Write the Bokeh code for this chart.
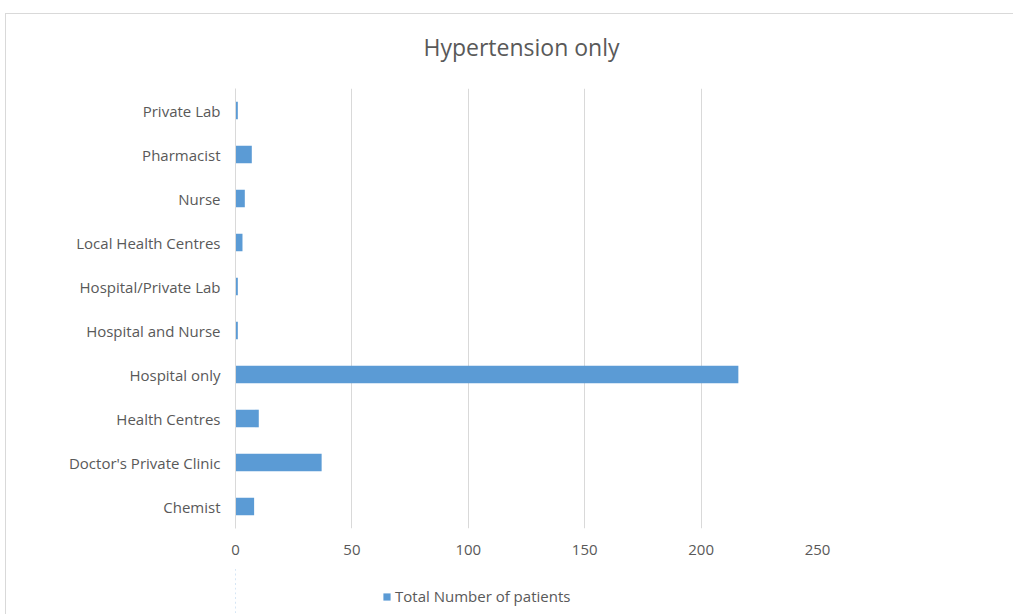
from bokeh.plotting import figure
from bokeh.layouts import column
from bokeh.models import (FactorRange, Range1d, Legend, LegendItem, FixedTicker,
                          ColumnDataSource, Title)
from bokeh.embed import file_html
from bokeh.resources import INLINE

categories = ["Chemist", "Doctor's Private Clinic", "Health Centres", "Hospital only",
              "Hospital and Nurse", "Hospital/Private Lab", "Local Health Centres",
              "Nurse", "Pharmacist", "Private Lab"]
patients = [8, 37, 10, 216, 1, 1, 3, 4, 7, 1]
x_ticks = [0, 50, 100, 150, 200, 250]
series_name = "Total Number of patients"
title_text = "Hypertension only"

FONT = "Open Sans"
TXT = "#595959"
BAR = "#5B9BD5"

src = ColumnDataSource(dict(cat=categories, val=patients))

p = figure(width=1008, height=554, output_backend="svg", toolbar_location=None,
           y_range=FactorRange(factors=categories, range_padding=0),
           x_range=Range1d(0, 250),
           min_border_left=229, min_border_right=197, min_border_top=74, min_border_bottom=40)
p.margin = (13, 0, 0, 5)
p.styles = {"border-top": "1px solid #d9d9d9", "border-left": "1px solid #d9d9d9"}
p.outline_line_color = None

r = p.hbar(y="cat", right="val", left=0, height=0.4, source=src,
           fill_color=BAR, line_color=None)

p.title.text = title_text
p.title.align = "left"
p.title.offset = 188
p.title.text_font = FONT
p.title.text_font_size = "23px"
p.title.text_font_style = "normal"
p.title.text_color = TXT
# spacer between the title and the plot area
p.add_layout(Title(text=" ", text_font_size="8px"), "above")

p.xaxis.ticker = FixedTicker(ticks=x_ticks)
p.xaxis.axis_line_color = None
p.xaxis.major_tick_line_color = None
p.xaxis.minor_tick_line_color = None
p.xaxis.major_label_text_font = FONT
p.xaxis.major_label_text_font_size = "15px"
p.xaxis.major_label_text_color = TXT
p.xaxis.major_label_standoff = 10

p.yaxis.axis_line_color = "#d9d9d9"
p.yaxis.major_tick_line_color = None
p.yaxis.minor_tick_line_color = None
p.yaxis.major_label_text_font = FONT
p.yaxis.major_label_text_font_size = "15px"
p.yaxis.major_label_text_color = TXT
p.yaxis.major_label_standoff = 9

p.xgrid.grid_line_color = "#d9d9d9"
p.ygrid.grid_line_color = None

# legend strip below the chart (its bars lie outside its view; only the legend shows)
p2 = figure(width=1008, height=47, output_backend="svg", toolbar_location=None,
            x_range=Range1d(300, 1300), y_range=FactorRange(factors=categories),
            min_border_left=0, min_border_right=0, min_border_top=0, min_border_bottom=0)
p2.margin = (0, 0, 0, 5)
p2.styles = {"border-left": "1px solid #d9d9d9"}
p2.outline_line_color = None
p2.axis.visible = False
p2.grid.visible = False
swatch = p2.hbar(y="cat", right="val", left=0, height=0.4, source=src,
                 fill_color=BAR, line_color=None)
legend = Legend(items=[LegendItem(label=series_name, renderers=[swatch])],
                location=(147, 8), orientation="horizontal",
                label_text_font=FONT, label_text_font_size="15px", label_text_color=TXT,
                glyph_width=9, glyph_height=9, label_standoff=4,
                border_line_color=None, background_fill_alpha=0, padding=2, margin=0)
p2.add_layout(legend, "center")

layout = column(p, p2, spacing=0)
open("out.html", "w").write(file_html(layout, INLINE))
